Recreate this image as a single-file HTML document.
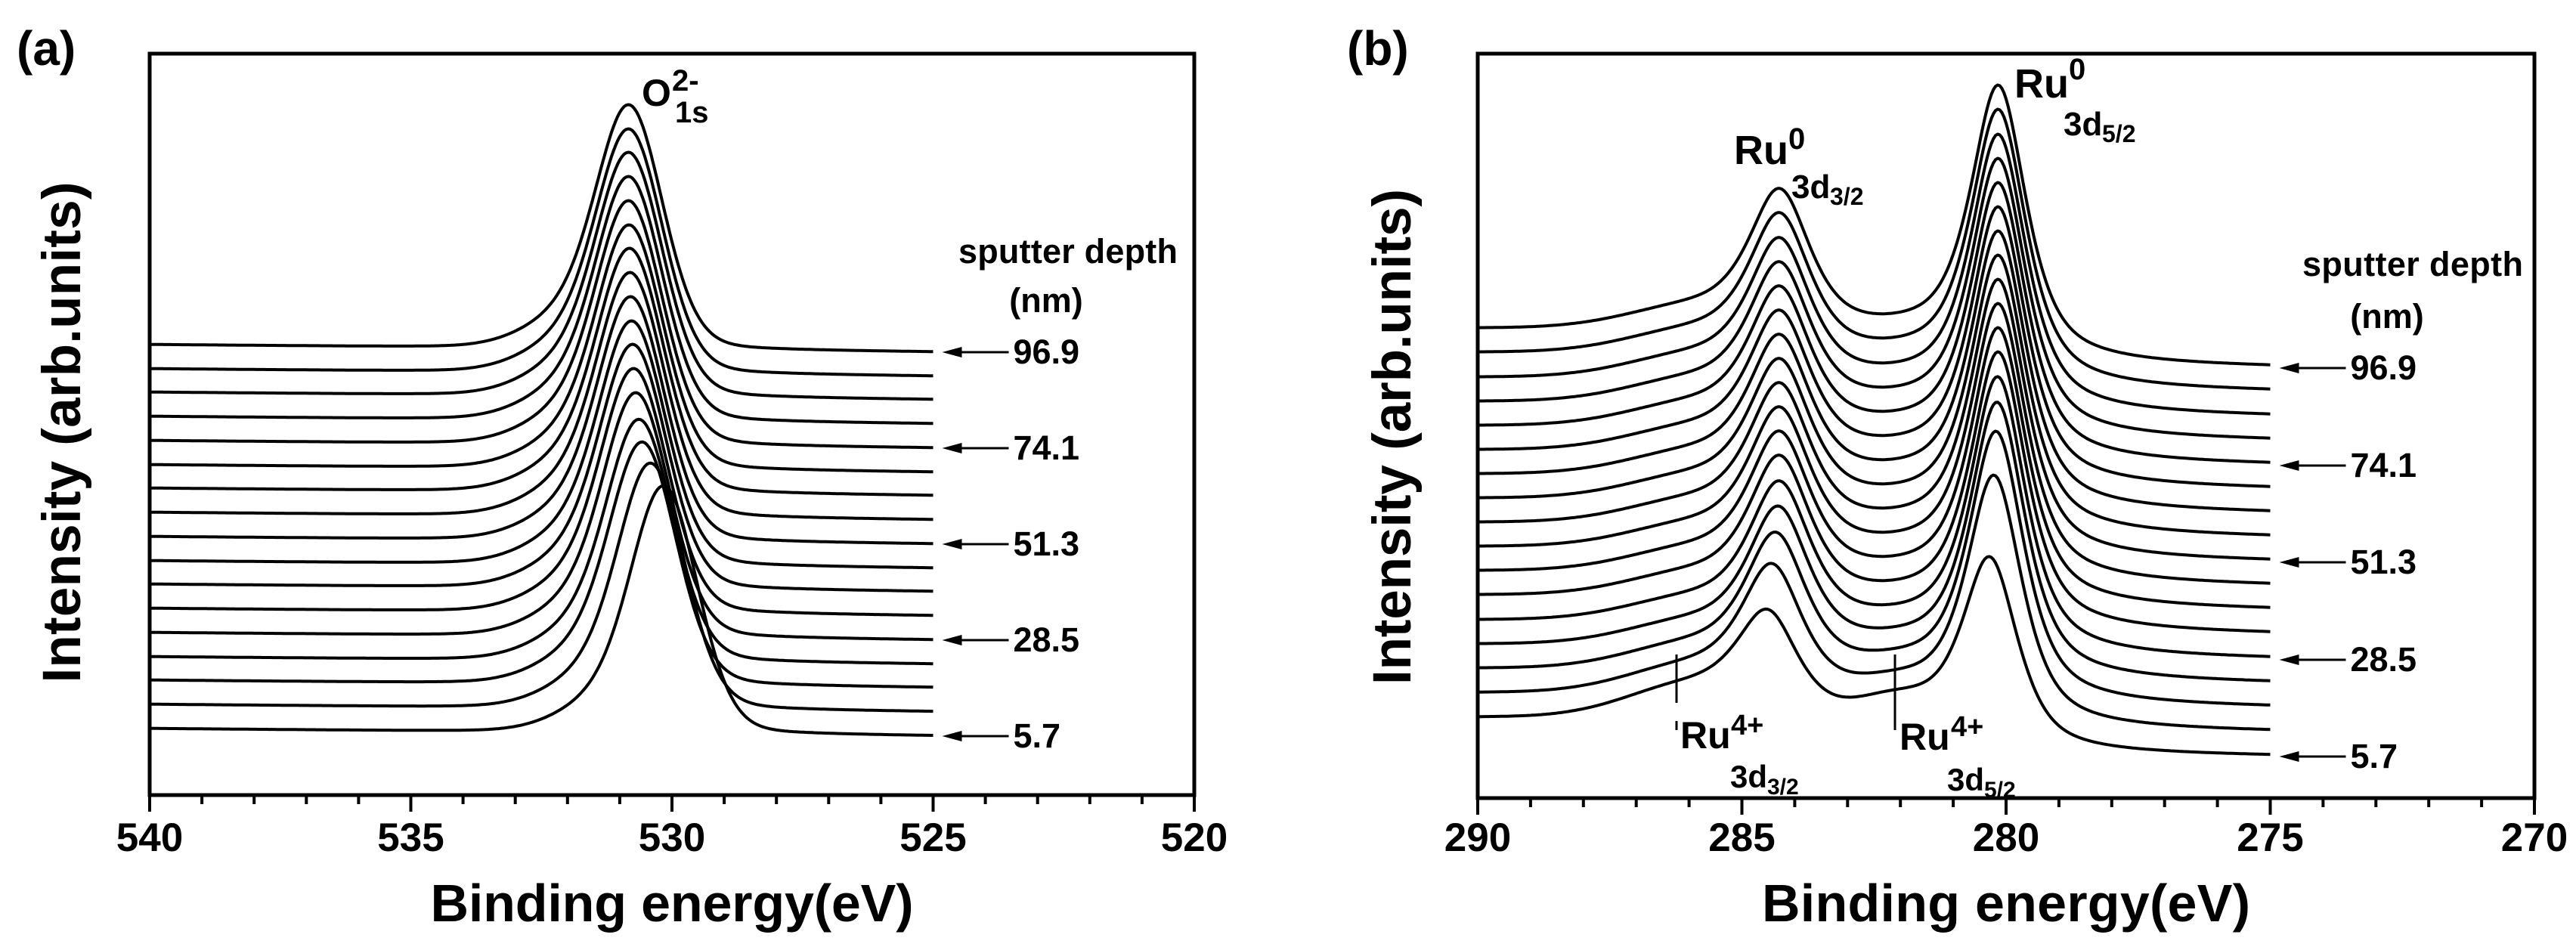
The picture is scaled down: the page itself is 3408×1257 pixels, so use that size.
<!DOCTYPE html>
<html><head><meta charset="utf-8"><style>
html,body{margin:0;padding:0;background:#fff}
svg{display:block}
text{font-family:"Liberation Sans",Arial,sans-serif;font-weight:bold;fill:#000}
</style></head><body>
<svg id="fig" width="3408" height="1257" viewBox="0 0 3408 1257" xmlns="http://www.w3.org/2000/svg">
<rect x="0" y="0" width="3408" height="1257" fill="#fff"/>
<text x="22" y="86" font-size="64">(a)</text>
<text x="1782" y="86" font-size="64">(b)</text>
<text x="889" y="1219" font-size="70" text-anchor="middle" textLength="639">Binding energy(eV)</text>
<text x="2654" y="1219" font-size="70" text-anchor="middle" textLength="646">Binding energy(eV)</text>
<text transform="translate(106,572) rotate(-90)" font-size="71" text-anchor="middle" textLength="663">Intensity (arb.units)</text>
<text transform="translate(1866,578) rotate(-90)" font-size="71" text-anchor="middle" textLength="656">Intensity (arb.units)</text>
<text x="1413" y="348" font-size="45" text-anchor="middle" textLength="290">sputter depth</text>
<text x="1384" y="413" font-size="45" text-anchor="middle">(nm)</text>
<text x="3192" y="365" font-size="45" text-anchor="middle" textLength="292">sputter depth</text>
<text x="3158" y="434" font-size="45" text-anchor="middle">(nm)</text>
<g>
<text x="849" y="140" font-size="50">O</text>
<text x="889" y="120" font-size="40">2-</text>
<text x="893" y="162" font-size="40">1s</text>
</g>
<g>
<text x="2665" y="129" font-size="54">Ru</text>
<text x="2737" y="105" font-size="40">0</text>
<text x="2730" y="179" font-size="44">3d</text>
<text x="2781" y="188" font-size="32">5/2</text>
</g>
<g>
<text x="2294" y="217" font-size="54">Ru</text>
<text x="2366" y="197" font-size="40">0</text>
<text x="2370" y="262" font-size="44">3d</text>
<text x="2421" y="271" font-size="32">3/2</text>
</g>
<g>
<line x1="2218" y1="866" x2="2218" y2="930" stroke="#000" stroke-width="3"/>
<line x1="2218" y1="954" x2="2218" y2="966" stroke="#000" stroke-width="3"/>
<text x="2223" y="990" font-size="50">Ru</text>
<text x="2290" y="972" font-size="38">4+</text>
<text x="2289" y="1042" font-size="42">3d</text>
<text x="2338" y="1051" font-size="30">3/2</text>
</g>
<g>
<line x1="2507" y1="866" x2="2507" y2="966" stroke="#000" stroke-width="3"/>
<text x="2513" y="992" font-size="50">Ru</text>
<text x="2581" y="974" font-size="38">4+</text>
<text x="2576" y="1046" font-size="42">3d</text>
<text x="2625" y="1055" font-size="30">5/2</text>
</g>
</svg>
<script>
// ---- Panel (a) O 1s data ----
const aDepth = [5.7,11.4,17.1,22.8,28.5,34.2,39.9,45.6,51.3,57.0,62.7,68.4,74.1,79.8,85.5,91.2,96.9];
const aBase = [78,110,142,173,205,237,269,300,332,364,396,427,459,491,523,554,586];
const aPeakE = [530.13,530.38,530.54,530.6,530.66,530.7,530.72,530.74,530.76,530.77,530.78,530.79,530.8,530.8,530.8,530.8,530.8];
const aAmp = [310,308,304,303,306,306,306,306,306,306,306,306,306,306,306,306,306];
const aTicks = [540,535,530,525,520];
// ---- Panel (b) Ru 3d data ----
const bDepth = [5.7,11.4,17.1,22.8,28.5,34.2,39.9,45.6,51.3,57.0,62.7,68.4,74.1,79.8,85.5,91.2,96.9];
const bBase = [55,87,119,151,183,216,248,280,312,344,376,408,440,472,504,537,569];
const bE5 = [280.3,280.22,280.18,280.16,280.15,280.14,280.14,280.14,280.14,280.14,280.14,280.14,280.14,280.14,280.14,280.14,280.14];
const bA5 = [240,318,345,352,354,354,354,354,354,354,354,354,354,354,354,354,354];
const bE3 = [284.5,284.42,284.35,284.3,284.28,284.28,284.28,284.28,284.28,284.28,284.28,284.28,284.28,284.28,284.28,284.28,284.28];
const bA3 = [132,165,177,181,183,184,184,184,184,184,184,184,184,184,184,184,184];
const bR3 = [38,30,26,24,23,23,23,23,23,23,23,23,23,23,23,23,23];
const bR5 = [30,18,12,8,6,5,5,5,5,5,5,5,5,5,5,5,5];
const bTicks = [290,285,280,275,270];
const labelDepths = ["96.9","74.1","51.3","28.5","5.7"];
const labelIdx = [16,12,8,4,0];

const NS = "http://www.w3.org/2000/svg";
const svg = document.getElementById('fig');
function mk(tag, attrs){const e=document.createElementNS(NS,tag);for(const k in attrs)e.setAttribute(k,attrs[k]);return e;}
function pv(x,c,w,eta){const t=(x-c)/w;return eta/(1+4*t*t)+(1-eta)*Math.exp(-4*Math.LN2*t*t);}
function gs(x,c,s){return Math.exp(-0.5*((x-c)/s)*((x-c)/s));}
function sg(z){return 1/(1+Math.exp(-z));}

const PA = {L:198,R:1580,T:71,B:1052,eMax:540,eMin:520,endE:525,name:'a'};
const PB = {L:1955,R:3353,T:71,B:1056,eMax:290,eMin:270,endE:275,name:'b'};
function xs(P,E){return P.L+(P.eMax-E)*(P.R-P.L)/(P.eMax-P.eMin);}
function ys(P,v){return P.B-v;}

function modelA(i,E){
  return aBase[i] + 10*(E-525)/15 + aAmp[i]*pv(E,aPeakE[i],1.5,0.15) + 0.13*aAmp[i]*gs(E,aPeakE[i]+1.1,0.85);
}
function modelB(i,E){
  const bg = 28*sg((E-280.2)/0.4) + 12*sg((E-284.4)/0.5) + 0.7*(E-275);
  return bBase[i] + bg + bA5[i]*pv(E,bE5[i],1.25,0.7) + bA3[i]*pv(E,bE3[i],1.4,0.7)
         + bR3[i]*gs(E,286.0,1.2) + bR5[i]*gs(E,282.1,0.8);
}

function drawPanel(P, model, n, ticks, baseArr){
  const g = mk('g',{});
  
  
  svg.appendChild(g);
  for(let i=0;i<n;i++){
    let d='';
    for(let E=P.eMax;E>=P.endE-1e-9;E-=0.04){
      d += (d?'L':'M')+xs(P,E).toFixed(1)+' '+ys(P,model(i,E)).toFixed(1);
    }
    const p = mk('path',{d:d,fill:'none',stroke:'#000','stroke-width':4,'stroke-linejoin':'round'});
    
    
    g.appendChild(p);
  }
  const fr = mk('rect',{x:P.L,y:P.T,width:P.R-P.L,height:P.B-P.T,fill:'none',stroke:'#000','stroke-width':5});
  
  
  g.appendChild(fr);
  for(let E=P.eMax;E>=P.eMin;E--){
    const major = (E%5===0);
    const t = mk('line',{x1:xs(P,E),x2:xs(P,E),y1:P.B,y2:P.B+(major?22:12),stroke:'#000','stroke-width':4});
    
    
    g.appendChild(t);
  }
  ticks.forEach(v=>{
    const tl = mk('text',{x:xs(P,v),y:1126,'font-size':53,'text-anchor':'middle'});
    tl.textContent = String(v);
    
    
    g.appendChild(tl);
  });
  const xe = xs(P,P.endE);
  labelIdx.forEach((idx,j)=>{
    const y = ys(P,baseArr[idx]);
    const ln = mk('line',{x1:xe+34,x2:xe+100,y1:y,y2:y,stroke:'#000','stroke-width':3});
    
    
    g.appendChild(ln);
    const hd = mk('polygon',{points:(xe+12)+','+y+' '+(xe+38)+','+(y-7)+' '+(xe+38)+','+(y+7),fill:'#000'});
    
    
    g.appendChild(hd);
    const tx = mk('text',{x:xe+106,y:y+15,'font-size':45});
    tx.textContent = labelDepths[j];
    
    
    g.appendChild(tx);
  });
}
drawPanel(PA, modelA, aDepth.length, aTicks, aBase);
drawPanel(PB, modelB, bDepth.length, bTicks, bBase);
</script>
</body></html>
